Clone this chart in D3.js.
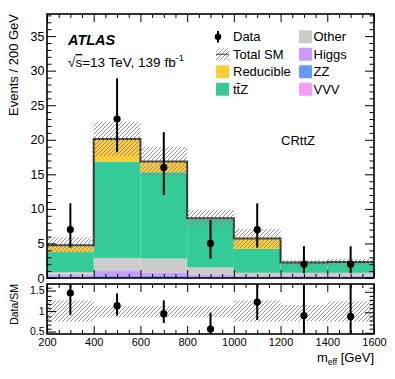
<!DOCTYPE html>
<html>
<head>
<meta charset="utf-8">
<script src="https://cdn.jsdelivr.net/npm/d3@7"></script>
<style>
  body { margin: 0; background: #fff; }
  svg { display: block; font-family: "Liberation Sans", Arial, Helvetica, sans-serif; }
  .tick line { stroke: #000; }
</style>
</head>
<body>
<div class="chart"></div>
<script>
// bin edges in m_eff [GeV]
const binEdges = [200, 400, 600, 800, 1000, 1200, 1400, 1600]

// stacked backgrounds, events per bin (bottom to top)
const vvv = [0.02, 0.05, 0.05, 0.03, 0.02, 0.02, 0.02]
const zz = [0.2, 0.3, 0.3, 0.2, 0.15, 0.15, 0.15]
const higgs = [0.25, 0.65, 0.45, 0.25, 0.2, 0.2, 0.2]
const other = [0.38, 1.9, 2.0, 1.05, 0.38, 0.38, 0.38]
const ttz = [2.9, 13.95, 12.5, 6.97, 3.45, 1.45, 1.45]
const reducible = [1.0, 3.25, 1.55, 0.15, 1.5, 0.05, 0.1]

// total SM uncertainty (absolute, events)
const sysUp = [1.15, 2.5, 2.1, 1.2, 1.4, 0.35, 0.5]
const sysDown = [1.05, 2.5, 2.1, 1.2, 1.35, 0.45, 0.5]

// data
const dataVals = [7, 23, 16, 5, 7, 2, 2]
const dataErrUp = [3.8, 5.9, 5.1, 3.4, 3.8, 2.6, 2.6]
const dataErrDown = [2.6, 4.8, 4.0, 2.2, 2.6, 1.3, 1.3]

// ratio panel
const ratioVals = [1.47, 1.16, 0.96, 0.59, 1.25, 0.92, 0.90]
const ratioHi = [2.3, 1.46, 1.29, 0.99, 1.92, 2.1, 2.1]
const ratioLo = [0.93, 0.92, 0.74, 0.33, 0.81, 0.33, 0.33]
const bandHi = [1.29, 1.15, 1.15, 1.15, 1.29, 1.18, 1.27]
const bandLo = [0.77, 0.88, 0.88, 0.88, 0.77, 0.78, 0.77]

const xTicks = [200, 400, 600, 800, 1000, 1200, 1400, 1600]
const yTicks = [0, 5, 10, 15, 20, 25, 30, 35]
const ratioTicks = [0.5, 1, 1.5]

const keys = ['vvv', 'zz', 'higgs', 'other', 'ttz', 'reducible']
const colors = {
  vvv: '#ff99ff',
  zz: '#6699ff',
  higgs: '#cc99ff',
  other: '#cccccc',
  ttz: '#33cc99',
  reducible: '#ffcc33'
}

const width = 395
const height = 379
const left = 47
const right = 374
const mainTop = 14
const mainBottom = 278
const ratioTop = 284
const ratioBottom = 334

const font = '"Liberation Sans", Arial, Helvetica, sans-serif'

const svg = d3
  .select('.chart')
  .append('svg')
  .attr('width', width)
  .attr('height', height)

const defs = svg.append('defs')
defs
  .append('pattern')
  .attr('id', 'hatch')
  .attr('patternUnits', 'userSpaceOnUse')
  .attr('width', 4)
  .attr('height', 4)
  .append('path')
  .attr('d', 'M-1,1 l2,-2 M0,4 l4,-4 M3,5 l2,-2')
  .attr('stroke', '#888')
  .attr('stroke-width', 0.9)

defs.append('clipPath').attr('id', 'clipMain')
  .append('rect')
  .attr('x', left).attr('y', mainTop)
  .attr('width', right - left).attr('height', mainBottom - mainTop)
defs.append('clipPath').attr('id', 'clipRatio')
  .append('rect')
  .attr('x', left).attr('y', ratioTop)
  .attr('width', right - left).attr('height', ratioBottom - ratioTop)

const xScale = d3.scaleLinear().domain([200, 1600]).range([left, right])
const yMain = d3.scaleLinear().domain([0, 38.2]).range([mainBottom, mainTop])
const yRatio = d3.scaleLinear().domain([0.47, 1.69]).range([ratioBottom, ratioTop])

const rows = dataVals.map((_, i) => ({
  lo: binEdges[i],
  hi: binEdges[i + 1],
  vvv: vvv[i],
  zz: zz[i],
  higgs: higgs[i],
  other: other[i],
  ttz: ttz[i],
  reducible: reducible[i]
}))
const totals = rows.map(r => keys.reduce((s, k) => s + r[k], 0))

const stacked = d3.stack().keys(keys)(rows)

// ---- main panel
const main = svg.append('g').attr('clip-path', 'url(#clipMain)')

main
  .selectAll('g.layer')
  .data(stacked)
  .enter()
  .append('g')
  .attr('class', 'layer')
  .attr('fill', d => colors[d.key])
  .selectAll('rect')
  .data(d => d)
  .enter()
  .append('rect')
  .attr('x', d => xScale(d.data.lo))
  .attr('width', d => xScale(d.data.hi) - xScale(d.data.lo))
  .attr('y', d => yMain(d[1]))
  .attr('height', d => yMain(d[0]) - yMain(d[1]))

const stepPoints = totals.map((t, i) => [binEdges[i], t])
stepPoints.push([binEdges[binEdges.length - 1], totals[totals.length - 1]])

main
  .append('path')
  .datum(stepPoints)
  .attr('fill', 'none')
  .attr('stroke', '#383838')
  .attr('stroke-width', 2)
  .attr('d', d3.line().x(d => xScale(d[0])).y(d => yMain(d[1])).curve(d3.curveStepAfter))

main
  .selectAll('rect.band')
  .data(totals)
  .enter()
  .append('rect')
  .attr('class', 'band')
  .attr('fill', 'url(#hatch)')
  .attr('x', (_, i) => xScale(binEdges[i]))
  .attr('width', (_, i) => xScale(binEdges[i + 1]) - xScale(binEdges[i]))
  .attr('y', (d, i) => yMain(d + sysUp[i]))
  .attr('height', (d, i) => yMain(d - sysDown[i]) - yMain(d + sysUp[i]))

const binCenter = i => xScale((binEdges[i] + binEdges[i + 1]) / 2)

main
  .selectAll('line.err')
  .data(dataVals)
  .enter()
  .append('line')
  .attr('stroke', '#000')
  .attr('stroke-width', 2)
  .attr('x1', (_, i) => binCenter(i))
  .attr('x2', (_, i) => binCenter(i))
  .attr('y1', (d, i) => yMain(d + dataErrUp[i]))
  .attr('y2', (d, i) => yMain(d - dataErrDown[i]))

main
  .selectAll('circle')
  .data(dataVals)
  .enter()
  .append('circle')
  .attr('cx', (_, i) => binCenter(i))
  .attr('cy', d => yMain(d))
  .attr('r', 3.6)
  .attr('fill', '#000')

// ---- ratio panel
const ratio = svg.append('g').attr('clip-path', 'url(#clipRatio)')

ratio
  .selectAll('rect')
  .data(bandHi)
  .enter()
  .append('rect')
  .attr('fill', 'url(#hatch)')
  .attr('x', (_, i) => xScale(binEdges[i]))
  .attr('width', (_, i) => xScale(binEdges[i + 1]) - xScale(binEdges[i]))
  .attr('y', d => yRatio(d))
  .attr('height', (d, i) => yRatio(bandLo[i]) - yRatio(d))

ratio
  .selectAll('line')
  .data(ratioVals)
  .enter()
  .append('line')
  .attr('stroke', '#000')
  .attr('stroke-width', 2)
  .attr('x1', (_, i) => binCenter(i))
  .attr('x2', (_, i) => binCenter(i))
  .attr('y1', (_, i) => yRatio(ratioHi[i]))
  .attr('y2', (_, i) => yRatio(ratioLo[i]))

ratio
  .selectAll('circle')
  .data(ratioVals)
  .enter()
  .append('circle')
  .attr('cx', (_, i) => binCenter(i))
  .attr('cy', d => yRatio(d))
  .attr('r', 3.6)
  .attr('fill', '#000')

// ---- axes (ticks point inward, ROOT style)
const xMinor = d3.range(200, 1601, 50).filter(v => v % 200 !== 0)
const yMinor = d3.range(0, 38.1, 1).filter(v => v % 5 !== 0)
const rMinor = d3.range(0.5, 1.7, 0.1).map(v => +v.toFixed(1)).filter(v => v !== 0.5 && v !== 1 && v !== 1.5)

function drawAxis (axis, tx, ty, labels, fontSize) {
  const g = svg.append('g')
    .attr('transform', `translate(${tx},${ty})`)
    .call(axis)
  g.select('.domain').remove()
  g.selectAll('text')
    .attr('font-family', font)
    .attr('font-size', fontSize)
    .attr('fill', '#000')
  if (!labels) g.selectAll('text').remove()
  return g
}

const plain = d3.format('')

// main x (top and bottom, no labels)
drawAxis(d3.axisBottom(xScale).tickValues(xTicks).tickSize(-8), 0, mainBottom, false)
drawAxis(d3.axisBottom(xScale).tickValues(xMinor).tickSize(-4), 0, mainBottom, false)
drawAxis(d3.axisTop(xScale).tickValues(xTicks).tickSize(-8), 0, mainTop, false)
drawAxis(d3.axisTop(xScale).tickValues(xMinor).tickSize(-4), 0, mainTop, false)

// main y
drawAxis(d3.axisLeft(yMain).tickValues(yTicks).tickSize(-9).tickPadding(2.5).tickFormat(plain), left, 0, true, '12.5px')
drawAxis(d3.axisLeft(yMain).tickValues(yMinor).tickSize(-4.5), left, 0, false)
drawAxis(d3.axisRight(yMain).tickValues(yTicks).tickSize(-9), right, 0, false)
drawAxis(d3.axisRight(yMain).tickValues(yMinor).tickSize(-4.5), right, 0, false)

// ratio x
drawAxis(d3.axisBottom(xScale).tickValues(xTicks).tickSize(-8).tickPadding(4.5).tickFormat(plain), 0, ratioBottom, true, '11px')
drawAxis(d3.axisBottom(xScale).tickValues(xMinor).tickSize(-4), 0, ratioBottom, false)
drawAxis(d3.axisTop(xScale).tickValues(xTicks).tickSize(-8), 0, ratioTop, false)
drawAxis(d3.axisTop(xScale).tickValues(xMinor).tickSize(-4), 0, ratioTop, false)

// ratio y
drawAxis(d3.axisLeft(yRatio).tickValues(ratioTicks).tickSize(-9).tickPadding(2.5).tickFormat(plain), left, -1.2, true, '10.5px')
drawAxis(d3.axisLeft(yRatio).tickValues(rMinor).tickSize(-4.5), left, 0, false)
drawAxis(d3.axisRight(yRatio).tickValues(ratioTicks).tickSize(-9), right, 0, false)
drawAxis(d3.axisRight(yRatio).tickValues(rMinor).tickSize(-4.5), right, 0, false)

// frames
svg.append('rect')
  .attr('x', left).attr('y', mainTop)
  .attr('width', right - left).attr('height', mainBottom - mainTop)
  .attr('fill', 'none').attr('stroke', '#000').attr('stroke-width', 1.6)
svg.append('rect')
  .attr('x', left).attr('y', ratioTop)
  .attr('width', right - left).attr('height', ratioBottom - ratioTop)
  .attr('fill', 'none').attr('stroke', '#000').attr('stroke-width', 1.6)

// ---- axis titles
svg.append('text')
  .attr('transform', `translate(18,${mainTop}) rotate(-90)`)
  .attr('text-anchor', 'end')
  .attr('font-family', font)
  .attr('font-size', '13px')
  .text('Events / 200 GeV')

svg.append('text')
  .attr('transform', `translate(18,${ratioTop}) rotate(-90)`)
  .attr('text-anchor', 'end')
  .attr('font-family', font)
  .attr('font-size', '10.5px')
  .text('Data/SM')

const xTitle = svg.append('text')
  .attr('x', right)
  .attr('y', 362)
  .attr('text-anchor', 'end')
  .attr('font-family', font)
  .attr('font-size', '13px')
xTitle.append('tspan').text('m')
xTitle.append('tspan').attr('font-size', '8.5px').attr('dy', 3).text('eff')
xTitle.append('tspan').attr('dy', -3).text(' [GeV]')

// ---- labels
svg.append('text')
  .attr('x', 68).attr('y', 45)
  .attr('font-family', font)
  .attr('font-size', '14.5px')
  .attr('font-weight', 'bold')
  .attr('font-style', 'italic')
  .text('ATLAS')

const lumi = svg.append('text')
  .attr('x', 68).attr('y', 67)
  .attr('font-family', font)
  .attr('font-size', '13.5px')
lumi.append('tspan').text('√')
lumi.append('tspan').attr('text-decoration', 'overline').text('s')
lumi.append('tspan').text('=13 TeV, 139 fb')
lumi.append('tspan').attr('font-size', '9.5px').attr('dy', -6).text('-1')

svg.append('text')
  .attr('x', 281).attr('y', 145)
  .attr('font-family', font)
  .attr('font-size', '13px')
  .text('CRttZ')

// ---- legend
const legend = svg.append('g').attr('font-family', font).attr('font-size', '13px')
const rowY = [36.7, 54.3, 71.7, 89.3]

legend.append('line')
  .attr('x1', 218).attr('x2', 218).attr('y1', 31).attr('y2', 42.5)
  .attr('stroke', '#000').attr('stroke-width', 2)
legend.append('circle').attr('cx', 218).attr('cy', rowY[0]).attr('r', 3.3).attr('fill', '#000')
legend.append('text').attr('x', 233).attr('y', rowY[0] + 4.6).text('Data')

legend.append('rect')
  .attr('x', 216).attr('y', rowY[1] - 6).attr('width', 13).attr('height', 12)
  .attr('fill', 'url(#hatch)')
legend.append('line')
  .attr('x1', 216).attr('x2', 229).attr('y1', rowY[1]).attr('y2', rowY[1])
  .attr('stroke', '#555').attr('stroke-width', 1.2)
legend.append('text').attr('x', 233).attr('y', rowY[1] + 4.6).text('Total SM')

const legendBoxes = [
  { key: 'reducible', x: 216, row: 2 },
  { key: 'ttz', x: 216, row: 3 },
  { key: 'other', x: 299, row: 0 },
  { key: 'higgs', x: 299, row: 1 },
  { key: 'zz', x: 299, row: 2 },
  { key: 'vvv', x: 299, row: 3 }
]
legend
  .selectAll('rect.box')
  .data(legendBoxes)
  .enter()
  .append('rect')
  .attr('class', 'box')
  .attr('x', d => d.x)
  .attr('y', d => rowY[d.row] - 6.5)
  .attr('width', 13)
  .attr('height', 13)
  .attr('rx', 1)
  .attr('fill', d => colors[d.key])

legend.append('text').attr('x', 233).attr('y', rowY[2] + 4.6).text('Reducible')
legend.append('text').attr('x', 233).attr('y', rowY[3] + 4.6).text('tt\u0304Z')
legend.append('text').attr('x', 313.5).attr('y', rowY[0] + 4.6).text('Other')
legend.append('text').attr('x', 313.5).attr('y', rowY[1] + 4.6).text('Higgs')
legend.append('text').attr('x', 313.5).attr('y', rowY[2] + 4.6).text('ZZ')
legend.append('text').attr('x', 313.5).attr('y', rowY[3] + 4.6).text('VVV')
</script>
</body>
</html>
